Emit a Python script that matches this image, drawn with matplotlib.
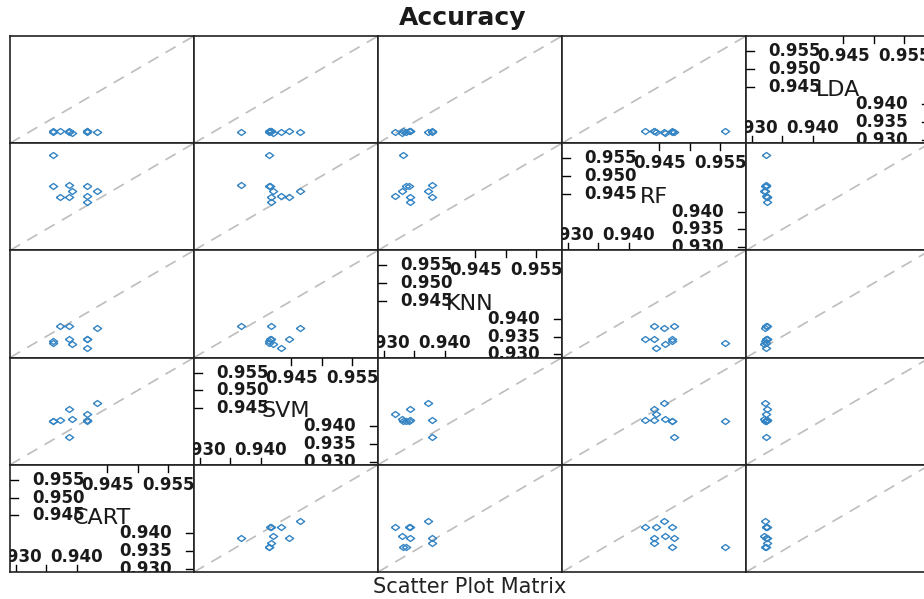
import matplotlib
matplotlib.use("Agg")
import matplotlib.pyplot as plt

# resampled accuracy of each model (10 folds)
models = ["CART", "SVM", "KNN", "RF", "LDA"]
cart = [0.9362, 0.9362, 0.9373, 0.9387, 0.9387, 0.9392, 0.9417, 0.9417, 0.9417, 0.9434]
svm = [0.9413, 0.9414, 0.9417, 0.9368, 0.9447, 0.9421, 0.9415, 0.9434, 0.9417, 0.9464]
knn = [0.9332, 0.9337, 0.9380, 0.9380, 0.9343, 0.9330, 0.9342, 0.9318, 0.9343, 0.9373]
rf = [0.9558, 0.9471, 0.9441, 0.9475, 0.9441, 0.9459, 0.9471, 0.9445, 0.9427, 0.9458]
lda = [0.9324, 0.9322, 0.9325, 0.9323, 0.9326, 0.9321, 0.9324, 0.9323, 0.9325, 0.9322]
values = {"CART": cart, "SVM": svm, "KNN": knn, "RF": rf, "LDA": lda}

lims = (0.9291, 0.9592)
ticks_lo = [0.930, 0.935, 0.940]
ticks_hi = [0.945, 0.950, 0.955]
labels_bottom = [0.930, 0.940]
labels_top = [0.945, 0.955]

point_col = "#3585c4"
line_col = "#bdbdbd"
# open diamond, a little wider than tall
diamond = [(-1, 0), (0, 0.72), (1, 0), (0, -0.72), (-1, 0)]

W, H = 924, 599
left_px, top_px = 10, 36
pw, ph = 184, 107.2

fig = plt.figure(figsize=(W / 100, H / 100), dpi=100)
fig.patch.set_facecolor("white")


def frac(v):
    return (v - lims[0]) / (lims[1] - lims[0])


def diag_panel(ax, name):
    tick_kw = dict(color="black", lw=1.0, transform=ax.transAxes, clip_on=True)
    txt_kw = dict(transform=ax.transAxes, fontsize=12, fontweight="bold",
                  family="DejaVu Sans", color="#1a1a1a", clip_on=True)
    for t in ticks_lo:
        f = frac(t)
        ax.plot([f, f], [0, 7 / ph], **tick_kw)
        ax.plot([1, 1 - 8 / pw], [f, f], **tick_kw)
        ax.text(1 - 22 / pw, f, "%.3f" % t, ha="right", va="center", **txt_kw)
    for t in labels_bottom:
        ax.text(frac(t), 15 / ph, "%.3f" % t, ha="center", va="center", **txt_kw)
    for t in ticks_hi:
        f = frac(t)
        ax.plot([f, f], [1, 1 - 7 / ph], **tick_kw)
        ax.plot([0, 8 / pw], [f, f], **tick_kw)
        ax.text(22 / pw, f, "%.3f" % t, ha="left", va="center", **txt_kw)
    for t in labels_top:
        ax.text(frac(t), 1 - 20 / ph, "%.3f" % t, ha="center", va="center", **txt_kw)
    ax.text(0.5, 0.5, name, transform=ax.transAxes, ha="center", va="center",
            fontsize=16, family="DejaVu Sans", color="#1a1a1a")


n = len(models)
for row in range(n):          # row 0 is the top of the grid
    yvar = models[n - 1 - row]
    for col in range(n):
        xvar = models[col]
        x0 = (left_px + col * pw) / W
        y0 = 1 - (top_px + (row + 1) * ph) / H
        ax = fig.add_axes([x0, y0, pw / W, ph / H])
        ax.set_xlim(lims)
        ax.set_ylim(lims)
        ax.set_xticks([])
        ax.set_yticks([])
        for s in ax.spines.values():
            s.set_linewidth(1.2)
            s.set_color("#222222")
        if xvar == yvar:
            diag_panel(ax, xvar)
            continue
        ax.plot(lims, lims, color=line_col, lw=1.2, dashes=(7, 5))
        ax.plot(values[xvar], values[yvar], linestyle="none",
                marker=diamond, markersize=6, markerfacecolor="none",
                markeredgecolor=point_col, markeredgewidth=1.0)

fig.text(463 / W, 1 - 18 / H, "Accuracy", ha="center", va="center",
         fontsize=18, fontweight="bold", family="DejaVu Sans", color="#1a1a1a")
fig.text(470 / W, 1 - 587 / H, "Scatter Plot Matrix", ha="center", va="center",
         fontsize=15, family="DejaVu Sans", color="#222222")

fig.savefig("out.png", dpi=100)
